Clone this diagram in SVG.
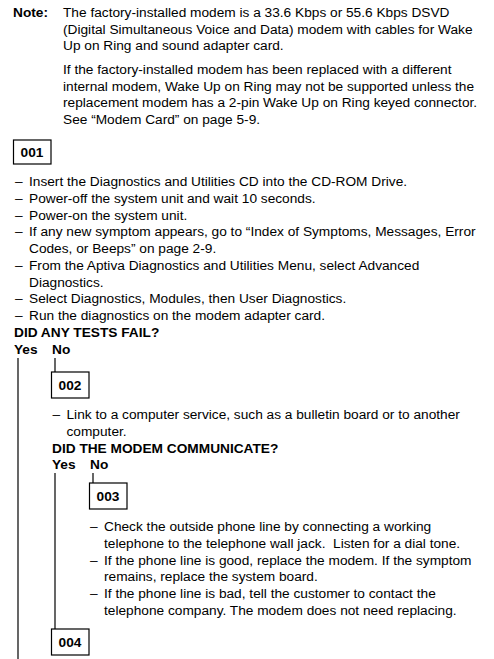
<svg xmlns="http://www.w3.org/2000/svg" width="494" height="659" viewBox="0 0 494 659">
<style>
text{font-family:"Liberation Sans",Arial,Helvetica,sans-serif;font-size:13.7px;fill:#000;white-space:pre}
.b{font-weight:bold}
.n{font-weight:bold;text-anchor:middle}
.box{fill:none;stroke:#000;stroke-width:1.2}
.ln{stroke:#000;stroke-width:1.2;fill:none}
</style>
<rect width="494" height="659" fill="#fff"/>
<g id="note">
<text class="b" x="13" y="17">Note:</text>
<text x="63" y="17">The factory-installed modem is a 33.6 Kbps or 55.6 Kbps DSVD</text>
<text x="63" y="33.5">(Digital Simultaneous Voice and Data) modem with cables for Wake</text>
<text x="63" y="50">Up on Ring and sound adapter card.</text>
<text x="63" y="74">If the factory-installed modem has been replaced with a different</text>
<text x="63" y="90.5">internal modem, Wake Up on Ring may not be supported unless the</text>
<text x="63" y="107">replacement modem has a 2-pin Wake Up on Ring keyed connector.</text>
<text x="63" y="123.5">See “Modem Card” on page 5-9.</text>
</g>
<g id="step001">
<rect class="box" x="13.5" y="140" width="37.5" height="24"/>
<text class="n" x="32" y="157">001</text>
<text x="15" y="186">–</text><text x="29" y="186">Insert the Diagnostics and Utilities CD into the CD-ROM Drive.</text>
<text x="15" y="202.75">–</text><text x="29" y="202.75">Power-off the system unit and wait 10 seconds.</text>
<text x="15" y="219.5">–</text><text x="29" y="219.5">Power-on the system unit.</text>
<text x="15" y="236.25">–</text><text x="29" y="236.25">If any new symptom appears, go to “Index of Symptoms, Messages, Error</text>
<text x="29" y="253">Codes, or Beeps” on page 2-9.</text>
<text x="15" y="269.75">–</text><text x="29" y="269.75">From the Aptiva Diagnostics and Utilities Menu, select Advanced</text>
<text x="29" y="286.5">Diagnostics.</text>
<text x="15" y="303.25">–</text><text x="29" y="303.25">Select Diagnostics, Modules, then User Diagnostics.</text>
<text x="15" y="320">–</text><text x="29" y="320">Run the diagnostics on the modem adapter card.</text>
<text class="b" x="14" y="337">DID ANY TESTS FAIL?</text>
<text class="b" x="14" y="354">Yes</text>
<text class="b" x="52" y="354">No</text>
</g>
<g id="step002">
<rect class="box" x="51.5" y="372" width="37.5" height="26"/>
<text class="n" x="70" y="390">002</text>
<text x="52.5" y="419">–</text><text x="66.5" y="419">Link to a computer service, such as a bulletin board or to another</text>
<text x="66.5" y="436">computer.</text>
<text class="b" x="52" y="452.5">DID THE MODEM COMMUNICATE?</text>
<text class="b" x="52" y="469">Yes</text>
<text class="b" x="90" y="469">No</text>
</g>
<g id="step003">
<rect class="box" x="89.5" y="483" width="37.5" height="26"/>
<text class="n" x="108" y="501">003</text>
<text x="90" y="531">–</text><text x="104" y="531">Check the outside phone line by connecting a working</text>
<text x="104" y="547.75">telephone to the telephone wall jack.  Listen for a dial tone.</text>
<text x="90" y="564.5">–</text><text x="104" y="564.5">If the phone line is good, replace the modem. If the symptom</text>
<text x="104" y="581">remains, replace the system board.</text>
<text x="90" y="598">–</text><text x="104" y="598">If the phone line is bad, tell the customer to contact the</text>
<text x="104" y="614.5">telephone company. The modem does not need replacing.</text>
</g>
<g id="step004">
<rect class="box" x="51.5" y="629" width="37.5" height="26"/>
<text class="n" x="70" y="647">004</text>
</g>
<g id="connectors">
<line class="ln" x1="18" y1="358" x2="18" y2="659"/>
<line class="ln" x1="55" y1="358" x2="55" y2="372"/>
<line class="ln" x1="55" y1="473" x2="55" y2="629"/>
<line class="ln" x1="93" y1="473" x2="93" y2="483"/>
</g>
</svg>
